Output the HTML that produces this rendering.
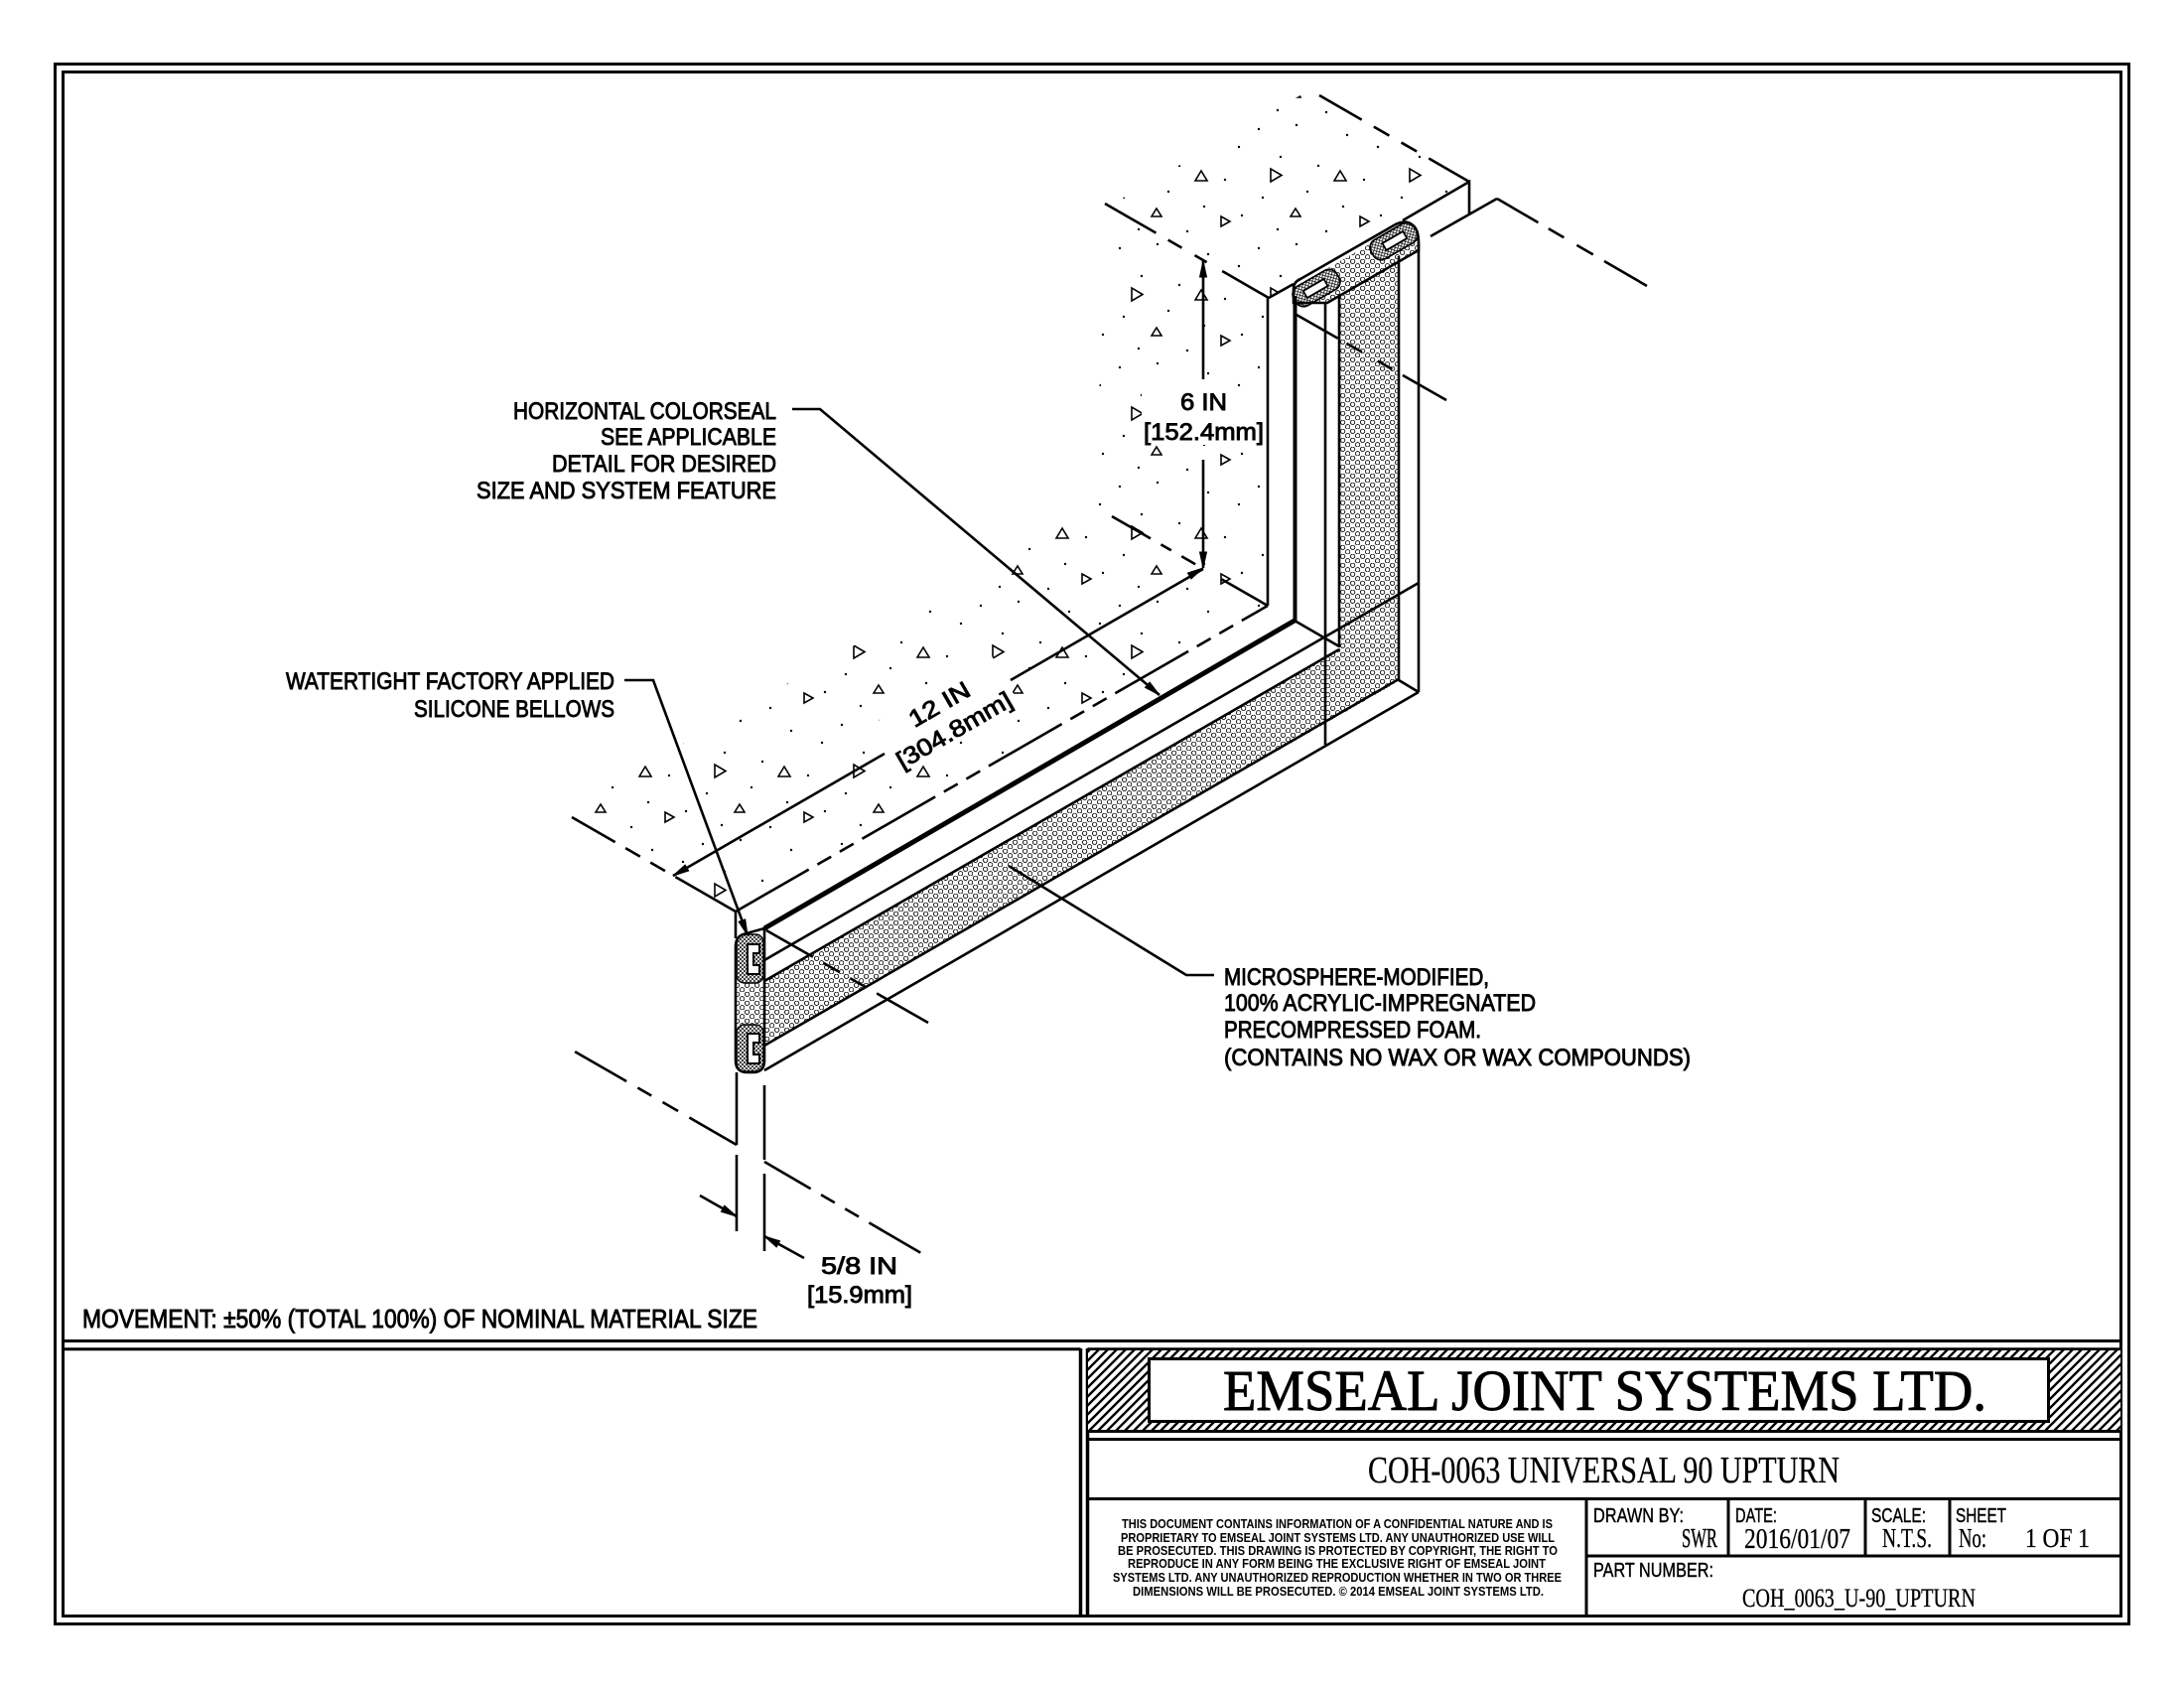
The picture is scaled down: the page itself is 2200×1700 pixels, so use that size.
<!DOCTYPE html>
<html>
<head>
<meta charset="utf-8">
<style>
html,body{margin:0;padding:0;background:#fff;}
svg{display:block;}
</style>
</head>
<body>
<svg xmlns="http://www.w3.org/2000/svg" width="2200" height="1700" viewBox="0 0 2200 1700">
<defs>
  <pattern id="conc" width="140" height="120" patternUnits="userSpaceOnUse">
    <g fill="#000">
      <circle cx="8" cy="10" r="1.2"/><circle cx="46" cy="6" r="1.2"/><circle cx="97" cy="16" r="1.2"/>
      <circle cx="128" cy="28" r="1.2"/><circle cx="30" cy="38" r="1.2"/><circle cx="68" cy="47" r="1.2"/>
      <circle cx="114" cy="61" r="1.2"/><circle cx="12" cy="79" r="1.2"/><circle cx="57" cy="73" r="1.2"/>
      <circle cx="93" cy="88" r="1.2"/><circle cx="131" cy="97" r="1.2"/><circle cx="27" cy="111" r="1.2"/>
      <circle cx="76" cy="113" r="1.2"/>
    </g>
    <g fill="none" stroke="#000" stroke-width="1.6">
      <path d="M20,50 l0,13 l11,-6.5 z"/>
      <path d="M84,62 l6,-10 l6,10 z"/>
      <path d="M110,98 l0,10 l9,-5 z"/>
      <path d="M40,98 l5,-8 l5,8 z"/>
    </g>
  </pattern>
  <pattern id="foam" width="10" height="9" patternUnits="userSpaceOnUse">
    <rect width="10" height="9" fill="#fff"/>
    <circle cx="2.6" cy="2.3" r="2.2" fill="none" stroke="#000" stroke-width="0.85"/>
    <circle cx="7.6" cy="6.8" r="2.2" fill="none" stroke="#000" stroke-width="0.85"/>
  </pattern>
  <pattern id="xh" width="4" height="4" patternUnits="userSpaceOnUse">
    <rect width="4" height="4" fill="#fff"/>
    <path d="M0,0 L4,4 M4,0 L0,4" stroke="#000" stroke-width="0.7"/>
  </pattern>
  <pattern id="hatch" width="9" height="9" patternUnits="userSpaceOnUse">
    <rect width="9" height="9" fill="#fff"/>
    <path d="M0,9 L9,0 M-1,1 L1,-1 M8,10 L10,8" stroke="#000" stroke-width="2.4"/>
  </pattern>
</defs>

<rect width="2200" height="1700" fill="#fff"/>

<!-- ===== BORDER ===== -->
<g fill="none" stroke="#000" stroke-width="3">
  <rect x="55.5" y="64.5" width="2089" height="1571"/>
  <rect x="63.5" y="72.5" width="2073" height="1555"/>
  <line x1="63.5" y1="1350.5" x2="2136.5" y2="1350.5"/>
  <line x1="63.5" y1="1358.7" x2="1088.5" y2="1358.7"/>
  <line x1="1095.5" y1="1358.7" x2="2136.5" y2="1358.7"/>
</g>
<g stroke="#000" stroke-width="3.5">
  <line x1="1088.5" y1="1358" x2="1088.5" y2="1628"/>
  <line x1="1095.5" y1="1358" x2="1095.5" y2="1628"/>
</g>

<!-- ===== TITLE BLOCK ===== -->
<rect x="1096" y="1360" width="1040" height="81" fill="url(#hatch)"/>
<rect x="1157.5" y="1368.5" width="906" height="63" fill="#fff" stroke="#000" stroke-width="3"/>
<g stroke="#000" stroke-width="3" fill="none">
  <line x1="1095.5" y1="1441.5" x2="2136.5" y2="1441.5"/>
  <line x1="1095.5" y1="1449.5" x2="2136.5" y2="1449.5"/>
  <line x1="1095.5" y1="1509.5" x2="2136.5" y2="1509.5"/>
  <line x1="1598" y1="1509.5" x2="1598" y2="1627.5"/>
  <line x1="1741" y1="1509.5" x2="1741" y2="1567"/>
  <line x1="1879" y1="1509.5" x2="1879" y2="1567"/>
  <line x1="1964" y1="1509.5" x2="1964" y2="1567"/>
  <line x1="1598" y1="1567" x2="2136.5" y2="1567"/>
</g>

<g font-family="'Liberation Serif', serif" fill="#000" stroke="#000">
  <text x="1232" y="1420" font-size="58" stroke-width="0.9" textLength="769" lengthAdjust="spacingAndGlyphs">EMSEAL JOINT SYSTEMS LTD.</text>
  <text x="1378" y="1493" font-size="38" stroke-width="0.3" textLength="475" lengthAdjust="spacingAndGlyphs">COH-0063 UNIVERSAL 90 UPTURN</text>
  <text x="1694" y="1558" font-size="27" stroke-width="0.4" textLength="36" lengthAdjust="spacingAndGlyphs">SWR</text>
  <text x="1757" y="1559" font-size="28" stroke-width="0.3" textLength="107" lengthAdjust="spacingAndGlyphs">2016/01/07</text>
  <text x="1896" y="1558" font-size="27" stroke-width="0.3" textLength="50" lengthAdjust="spacingAndGlyphs">N.T.S.</text>
  <text x="1973" y="1558" font-size="27" stroke-width="0.3" textLength="28" lengthAdjust="spacingAndGlyphs">No:</text>
  <text x="2040" y="1558" font-size="27" stroke-width="0.3" textLength="65" lengthAdjust="spacingAndGlyphs">1 OF 1</text>
  <text x="1755" y="1618" font-size="26" stroke-width="0.3" textLength="235" lengthAdjust="spacingAndGlyphs">COH_0063_U-90_UPTURN</text>
</g>
<g font-family="'Liberation Sans', sans-serif" fill="#000" stroke="#000" stroke-width="0.4" font-size="20">
  <text x="1605" y="1533" textLength="91" lengthAdjust="spacingAndGlyphs">DRAWN BY:</text>
  <text x="1748" y="1533" textLength="42" lengthAdjust="spacingAndGlyphs">DATE:</text>
  <text x="1885" y="1533" textLength="55" lengthAdjust="spacingAndGlyphs">SCALE:</text>
  <text x="1970" y="1533" textLength="51" lengthAdjust="spacingAndGlyphs">SHEET</text>
  <text x="1605" y="1588" textLength="121" lengthAdjust="spacingAndGlyphs">PART NUMBER:</text>
</g>
<g font-family="'Liberation Sans', sans-serif" font-weight="bold" fill="#000" font-size="13">
  <text x="1130" y="1539" textLength="434" lengthAdjust="spacingAndGlyphs">THIS DOCUMENT CONTAINS INFORMATION OF A CONFIDENTIAL NATURE AND IS</text>
  <text x="1129" y="1553" textLength="437" lengthAdjust="spacingAndGlyphs">PROPRIETARY TO EMSEAL JOINT SYSTEMS LTD. ANY UNAUTHORIZED USE WILL</text>
  <text x="1126" y="1566" textLength="443" lengthAdjust="spacingAndGlyphs">BE PROSECUTED. THIS DRAWING IS PROTECTED BY COPYRIGHT, THE RIGHT TO</text>
  <text x="1136" y="1579" textLength="421" lengthAdjust="spacingAndGlyphs">REPRODUCE IN ANY FORM BEING THE EXCLUSIVE RIGHT OF EMSEAL JOINT</text>
  <text x="1121" y="1593" textLength="452" lengthAdjust="spacingAndGlyphs">SYSTEMS LTD. ANY UNAUTHORIZED REPRODUCTION WHETHER IN TWO OR THREE</text>
  <text x="1141" y="1607" textLength="414" lengthAdjust="spacingAndGlyphs">DIMENSIONS WILL BE PROSECUTED. © 2014 EMSEAL JOINT SYSTEMS LTD.</text>
</g>

<!-- ===== DRAWING FILLS ===== -->
<polygon points="741,918 1277,610 1104,510 568,818" fill="url(#conc)"/>
<polygon points="1277,610 1278,300 1113,205 1104,510" fill="url(#conc)"/>
<polygon points="1278,300 1480,183 1320,90 1118,207" fill="url(#conc)"/>

<!-- white backings for dimension text -->
<g fill="#fff">
  <rect x="1150" y="392" width="124" height="56"/>
  <rect transform="translate(953,721) rotate(-30)" x="-70" y="-30" width="140" height="58"/>
</g>

<polygon points="770,988 1349,654 1349,298 1409,263 1409,686 770,1053" fill="url(#foam)"/>
<rect x="741" y="990" width="29" height="42" fill="url(#foam)"/>
<polygon points="1303,290 1409,229 1429,242 1429,252 1337,305 1303,305" fill="url(#foam)"/>

<!-- lobes at left end -->
<rect x="742" y="941" width="27" height="49" rx="8" fill="url(#xh)" stroke="#000" stroke-width="1.5"/>
<path d="M765,951 L753,951 L753,981 L765,981 L765,972 L759,972 L759,960 L765,960 Z" fill="#fff" stroke="#000" stroke-width="2"/>
<rect x="742" y="1032" width="27" height="47" rx="8" fill="url(#xh)" stroke="#000" stroke-width="1.5"/>
<path d="M765,1041 L753,1041 L753,1071 L765,1071 L765,1062 L759,1062 L759,1050 L765,1050 Z" fill="#fff" stroke="#000" stroke-width="2"/>

<!-- lobes at top of upturn -->
<g transform="translate(1326,290) rotate(-30)">
  <rect x="-25" y="-11" width="50" height="22" rx="9" fill="url(#xh)" stroke="#000" stroke-width="1.8"/>
  <rect x="-13" y="-4" width="24" height="8" fill="#fff" stroke="#000" stroke-width="1.8"/>
</g>
<g transform="translate(1404,243) rotate(-30)">
  <rect x="-25" y="-11" width="50" height="22" rx="9" fill="url(#xh)" stroke="#000" stroke-width="1.8"/>
  <rect x="-11" y="-4" width="24" height="8" fill="#fff" stroke="#000" stroke-width="1.8"/>
</g>

<!-- ===== DRAWING LINES ===== -->
<g fill="none" stroke="#000" stroke-width="2.6">
  <path d="M741,918 L1277,610" stroke-dasharray="85 10 16 10 16 10"/>
  <path d="M741,918 L576,823" stroke-dasharray="70 12 17 12 17 12 60"/>
  <line x1="741" y1="918" x2="741" y2="945"/>

  <path d="M770,935 L1304,625" stroke-width="5"/>
  <path d="M770,967 L1429,587"/>
  <path d="M770,988 L1349,654"/>
  <path d="M770,1053 L1409,684"/>
  <path d="M770,1078 L1429,697"/>
  <path d="M1304,625 L1349,651"/>
  <path d="M1409,685 L1429,697"/>

  <path d="M770,935 L770,1068 Q770,1080 758,1080 L753,1080 Q741,1080 741,1068 L741,953 Q741,942 752,940 Z"/>

  <path d="M772,937 L935,1030" stroke-dasharray="54 12 19 12 19 12 60"/>

  <line x1="1277" y1="300" x2="1277" y2="610"/>
  <line x1="1304.5" y1="298" x2="1304.5" y2="625" stroke-width="4"/>
  <line x1="1335" y1="305" x2="1335" y2="750"/>
  <line x1="1349" y1="296" x2="1349" y2="652"/>
  <line x1="1409" y1="258" x2="1409" y2="686"/>
  <line x1="1429" y1="244" x2="1429" y2="697"/>

  <path d="M1303,305 L1303,291 Q1303,284 1310,281 L1404,227 Q1418,219 1426,230 Q1429,235 1429,244 L1429,252 L1337,305 Z"/>

  <path d="M1278,300 L1303,286"/>
  <path d="M1413,222 L1480,183 L1480,215"/>
  <path d="M1278,300 L1113,205" stroke-dasharray="54 18 14 15 16 14 60"/>
  <path d="M1480,183 L1329,96" stroke-dasharray="47 14 18 14 18 14 70"/>
  <path d="M1277,610 L1120,520" stroke-dasharray="54 30 16 12 12 12 60"/>

  <path d="M1441,238 L1508,200"/>
  <path d="M1508,200 L1659,288" stroke-dasharray="48 12 18 15 19 13 60"/>
  <path d="M1306,317 L1457,403" stroke-dasharray="48 10 18 18 17 12 60"/>

  <path d="M742,1153 L579,1059" stroke-dasharray="55 13 18 13 16 13 60"/>
  <path d="M770,1170 L933,1265" stroke-dasharray="54 12 16 12 16 12 60"/>
  <line x1="742" y1="1080" x2="742" y2="1153"/>
  <line x1="742" y1="1163" x2="742" y2="1240"/>
  <line x1="770" y1="1093" x2="770" y2="1168"/>
  <line x1="770" y1="1182" x2="770" y2="1260"/>

  <path d="M678,882 L891,759"/>
  <path d="M1018,685 L1212,573"/>
  <path d="M1212,263 L1212,382"/>
  <path d="M1212,463 L1212,572"/>
  <path d="M705,1204 L742,1225"/>
  <path d="M810,1267 L770,1245"/>

  <path d="M798,412 L826,412 L1168,700"/>
  <path d="M629,685 L658,685 L753,942"/>
  <path d="M1223,982 L1195,982 L1016,872"/>
</g>

<g fill="#000" stroke="#000" stroke-width="1">
  <polygon points="678,882 690.1,871 693.7,877"/>
  <polygon points="1212,572 1199.9,583 1196.4,577"/>
  <polygon points="1212,263 1208.5,279 1215.5,279"/>
  <polygon points="1212,572 1208.5,556 1215.5,556"/>
  <polygon points="742,1225 726.4,1220.3 729.8,1214.2"/>
  <polygon points="770,1245 785.6,1249.8 782.2,1255.9"/>
  <polygon points="1168,700 1153.5,692.4 1158.1,687"/>
  <polygon points="753,942 744.1,928.2 750.7,925.8"/>
</g>

<!-- ===== DRAWING LABELS ===== -->
<g font-family="'Liberation Sans', sans-serif" font-size="24" fill="#000" stroke="#000" stroke-width="0.9">
  <text x="517" y="422" textLength="265" lengthAdjust="spacingAndGlyphs">HORIZONTAL COLORSEAL</text>
  <text x="605" y="448" textLength="177" lengthAdjust="spacingAndGlyphs">SEE APPLICABLE</text>
  <text x="556" y="475" textLength="226" lengthAdjust="spacingAndGlyphs">DETAIL FOR DESIRED</text>
  <text x="480" y="502" textLength="302" lengthAdjust="spacingAndGlyphs">SIZE AND SYSTEM FEATURE</text>

  <text x="288" y="694" textLength="331" lengthAdjust="spacingAndGlyphs">WATERTIGHT FACTORY APPLIED</text>
  <text x="417" y="722" textLength="202" lengthAdjust="spacingAndGlyphs">SILICONE BELLOWS</text>

  <text x="1233" y="992" textLength="267" lengthAdjust="spacingAndGlyphs">MICROSPHERE-MODIFIED,</text>
  <text x="1233" y="1018" textLength="314" lengthAdjust="spacingAndGlyphs">100% ACRYLIC-IMPREGNATED</text>
  <text x="1233" y="1045" textLength="259" lengthAdjust="spacingAndGlyphs">PRECOMPRESSED FOAM.</text>
  <text x="1233" y="1073" textLength="470" lengthAdjust="spacingAndGlyphs">(CONTAINS NO WAX OR WAX COMPOUNDS)</text>

  <text x="1189" y="413" textLength="47" lengthAdjust="spacingAndGlyphs">6 IN</text>
  <text x="1152" y="443" textLength="121" lengthAdjust="spacingAndGlyphs">[152.4mm]</text>

  <text x="827" y="1283" textLength="77" lengthAdjust="spacingAndGlyphs">5/8 IN</text>
  <text x="813" y="1312" textLength="106" lengthAdjust="spacingAndGlyphs">[15.9mm]</text>

  <text transform="translate(946,709) rotate(-30)" x="-33.5" y="8.5" textLength="67" lengthAdjust="spacingAndGlyphs">12 IN</text>
  <text transform="translate(961,735) rotate(-30)" x="-65" y="8.5" textLength="130" lengthAdjust="spacingAndGlyphs">[304.8mm]</text>

  <text x="83" y="1337" font-size="26" textLength="680" lengthAdjust="spacingAndGlyphs">MOVEMENT: ±50% (TOTAL 100%) OF NOMINAL MATERIAL SIZE</text>
</g>
</svg>
</body>
</html>
